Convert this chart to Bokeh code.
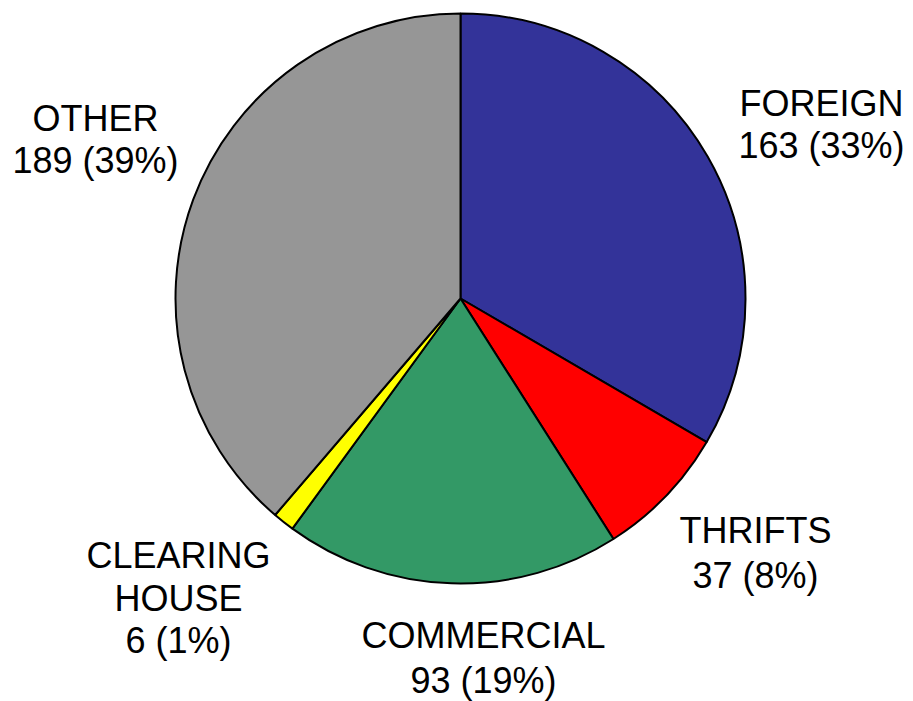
import math
from bokeh.plotting import figure
from bokeh.models import Range1d, ColumnDataSource
from bokeh.core.properties import value
from bokeh.embed import file_html
from bokeh.resources import INLINE

categories = ["FOREIGN", "THRIFTS", "COMMERCIAL", "CLEARING HOUSE", "OTHER"]
counts = [163, 37, 93, 6, 189]
percents = [33, 8, 19, 1, 39]
colors = ["#333399", "#FF0000", "#339966", "#FFFF00", "#969696"]

W, H = 913, 701
cx, cy, r = 460, H - 298, 285

p = figure(width=W, height=H, output_backend="svg", toolbar_location=None,
           x_range=Range1d(0, W), y_range=Range1d(0, H), min_border=0)
p.axis.visible = False
p.grid.visible = False
p.outline_line_color = None

total = sum(counts)
starts, ends = [], []
a = math.pi / 2
for c in counts:
    starts.append(a)
    a -= 2 * math.pi * c / total
    ends.append(a)

src = ColumnDataSource(dict(start=starts, end=ends, color=colors))
p.wedge(x=cx, y=cy, radius=r, start_angle="start", end_angle="end",
        direction="clock", fill_color="color", line_color="black",
        line_width=2, source=src)

# label positions (pixel coords of line centers)
label_pos = {
    "FOREIGN": (821, [103, 145]),
    "THRIFTS": (755, [530, 575]),
    "COMMERCIAL": (483, [635, 680]),
    "CLEARING HOUSE": (178, [555, 598, 640]),
    "OTHER": (95, [118, 160]),
}
xs, ys, texts = [], [], []
for cat, n, pc in zip(categories, counts, percents):
    lines = cat.split(" ") + [f"{n} ({pc}%)"]
    x0, yl = label_pos[cat]
    for t, yy in zip(lines, yl):
        xs.append(x0)
        ys.append(H - yy)
        texts.append(t)

p.text(x=xs, y=ys, text=texts, text_align="center", text_baseline="middle",
       text_font=value("Liberation Sans"), text_font_size="36px", text_color="black")

open("out.html", "w").write(file_html(p, INLINE))
